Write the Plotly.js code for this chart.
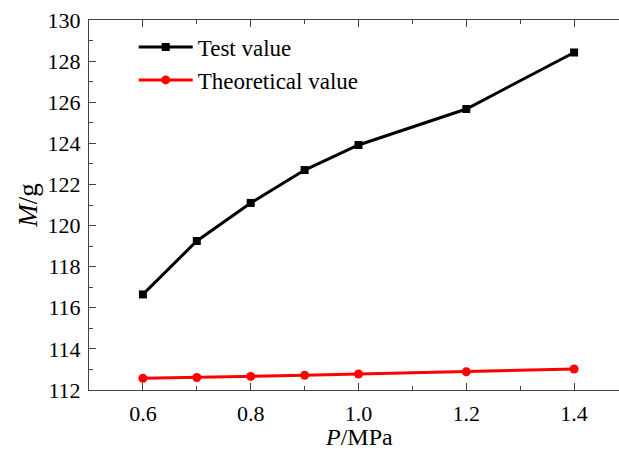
<!DOCTYPE html>
<html><head><meta charset="utf-8">
<script src="https://cdn.plot.ly/plotly-3.0.1.min.js"></script>
<style>html,body{margin:0;padding:0;overflow:hidden;background:#fff;}#chart{width:640px;height:452px;}</style>
</head><body><div id="chart"></div>
<script>
const pressure = [0.6, 0.7, 0.8, 0.9, 1.0, 1.2, 1.4];
const testValue = [116.65, 119.25, 121.10, 122.70, 123.92, 125.67, 128.42];
const theoreticalValue = [112.57, 112.61, 112.66, 112.72, 112.78, 112.89, 113.02];
const seriesNames = ["Test value", "Theoretical value"];
const xTitle = "<i>P</i>/MPa";
const yTitle = "<i>M</i>/g";

const font = "Liberation Serif";
const traces = [
  {x: pressure, y: testValue, name: seriesNames[0], mode: "lines+markers",
   line: {color: "#000000", width: 3}, marker: {symbol: "square", size: 8, color: "#000000"}},
  {x: pressure, y: theoreticalValue, name: seriesNames[1], mode: "lines+markers",
   line: {color: "#ff0000", width: 3}, marker: {symbol: "circle", size: 9, color: "#ff0000"}}
];
const axisCommon = {showgrid: false, zeroline: false, showline: true, linecolor: "#444", linewidth: 1,
  mirror: "ticks", ticks: "inside", ticklen: 7, tickcolor: "#444", tickwidth: 1,
  tickfont: {family: font, size: 22, color: "#000"}};
const layout = {
  width: 640, height: 452,
  margin: {l: 89, r: 12, t: 20, b: 62},
  paper_bgcolor: "#fff", plot_bgcolor: "#fff",
  font: {family: font, color: "#000"},
  showlegend: true,
  legend: {x: 0.083, y: 0.985, xanchor: "left", yanchor: "top", bgcolor: "rgba(0,0,0,0)",
    itemwidth: 54,
    font: {family: font, size: 23, color: "#000"}, tracegroupgap: 0},
  xaxis: Object.assign({}, axisCommon, {range: [0.5, 1.5], dtick: 0.2, tick0: 0.6, tickformat: ".1f",
    ticklabelstandoff: 4,
    minor: {ticks: "inside", dtick: 0.1, tick0: 0.5, ticklen: 4, tickcolor: "#444"}}),
  yaxis: Object.assign({}, axisCommon, {range: [112, 130], dtick: 2, tick0: 112,
    ticklabelstandoff: 3,
    minor: {ticks: "inside", dtick: 1, ticklen: 4, tickcolor: "#444"},
    title: {text: yTitle, font: {family: font, size: 27, color: "#000"}, standoff: 2}}),
  annotations: [{text: xTitle, xref: "x", yref: "paper", x: 1.0, y: -0.128, xanchor: "center", yanchor: "middle",
    showarrow: false, font: {family: font, size: 24, color: "#000"}}]
};
Plotly.newPlot("chart", traces, layout, {displayModeBar: false, staticPlot: true});
</script></body></html>
